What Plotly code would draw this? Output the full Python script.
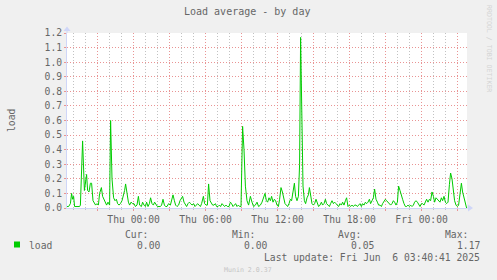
import plotly.graph_objects as go
from datetime import datetime, timedelta

# ---------------- data ----------------
START = datetime(2025, 6, 4, 18, 27)   # left edge of the graph (Wed)
SPAN_MIN = 2000                          # 400 x 5-minute steps

minutes = [
    0, 8, 17, 23, 28, 33, 38, 43, 53, 63, 67, 78, 87, 93, 98, 103, 110, 117, 123, 130,
    137, 143, 150, 157, 163, 172, 178, 185, 192, 198, 205, 213, 218, 225, 233, 240, 247, 253, 260, 267,
    275, 282, 288, 293, 300, 307, 313, 320, 328, 335, 342, 350, 357, 363, 372, 378, 385, 392, 398, 405,
    412, 418, 425, 432, 438, 445, 452, 460, 467, 473, 480, 487, 493, 500, 508, 517, 523, 530, 537, 543,
    550, 558, 565, 572, 578, 585, 592, 598, 605, 612, 618, 625, 633, 640, 647, 653, 660, 667, 673, 682,
    688, 695, 702, 708, 715, 722, 728, 735, 742, 748, 755, 762, 768, 775, 782, 788, 795, 802, 810, 817,
    823, 830, 837, 843, 850, 857, 863, 870, 878, 885, 892, 900, 908,
    917, 925, 933, 942, 950, 958, 967, 975, 983, 990, 997, 1003, 1010, 1017, 1023, 1030, 1037, 1043, 1050, 1057,
    1063, 1070, 1077, 1083, 1090, 1097, 1103, 1110, 1117, 1123, 1130, 1137, 1143, 1150, 1157, 1163, 1168, 1175, 1180, 1187,
    1193, 1200, 1207, 1212, 1218, 1225, 1232, 1238, 1245, 1252, 1258, 1265, 1272, 1278, 1285, 1292, 1298, 1305, 1312, 1318,
    1325, 1332, 1338, 1345, 1352, 1358, 1365, 1372, 1378, 1385, 1392, 1398, 1405, 1412, 1418, 1425, 1432, 1438, 1445, 1452,
    1458, 1465, 1472, 1478, 1485, 1492, 1498, 1505, 1512, 1518, 1525, 1532, 1538, 1545, 1552, 1558, 1565, 1572, 1578, 1585,
    1592, 1598, 1605, 1612, 1618, 1625, 1632, 1638, 1645, 1652, 1658, 1665, 1672, 1678, 1685, 1692, 1698, 1705, 1712, 1718,
    1725, 1732, 1738, 1745, 1752, 1758, 1765, 1772, 1778, 1785, 1792, 1798, 1805, 1812, 1818, 1825, 1832, 1838, 1845, 1852,
    1858, 1865, 1872, 1878, 1885, 1892, 1898, 1905, 1912, 1918, 1925, 1932, 1938, 1945, 1952, 1958, 1965, 1972, 1978, 1985,
    1992, 1998,
]

load = [
    .01, .01, .03, .10, .06, .08, .01, .01, .01, .01, .02, .46, .12, .20, .23, .12, .11, .17, .17, .05,
    .03, .02, .03, .02, .10, .14, .08, .06, .03, .02, .04, .02, .60, .20, .07, .05, .06, .03, .02, .03,
    .05, .08, .12, .165, .10, .04, .02, .04, .03, .03, .01, .02, .08, .02, .01, .04, .02, .01, .04, .01,
    .03, .07, .03, .02, .04, .02, .01, .01, .01, .02, .06, .02, .01, .01, .03, .02, .05, .09, .05, .02,
    .01, .02, .05, .07, .08, .04, .02, .01, .03, .04, .03, .02, .03, .01, .02, .03, .02, .01, .03, .08,
    .03, .02, .02, .165, .05, .03, .02, .02, .03, .01, .01, .02, .01, .03, .02, .01, .02, .01, .01, .04,
    .03, .01, .02, .03, .01, .02, .01, .01, .56, .40, .15, .05, .02,
    .08, .04, .01, .02, .04, .01, .02, .04, .07, .10, .05, .04, .07, .05, .08, .04, .06, .05, .02, .01,
    .06, .14, .11, .07, .03, .02, .01, .03, .06, .05, .10, .17, .08, .05, .08, .30, 1.17, .60, .15, .05,
    .03, .07, .09, .14, .08, .03, .02, .03, .06, .03, .01, .02, .04, .02, .03, .06, .03, .02, .01, .03,
    .05, .03, .04, .03, .02, .01, .03, .02, .04, .02, .05, .07, .01, .02, .01, .02, .01, .02, .02, .01,
    .02, .03, .01, .03, .02, .04, .03, .04, .06, .03, .05, .07, .13, .06, .04, .02, .02, .01, .03, .05,
    .06, .05, .04, .03, .02, .03, .05, .04, .02, .04, .15, .12, .08, .06, .03, .01, .01, .02, .01, .02,
    .01, .02, .04, .05, .04, .02, .01, .03, .03, .02, .04, .06, .04, .06, .05, .11, .08, .04, .07, .06,
    .05, .04, .07, .05, .08, .04, .03, .04, .16, .24, .20, .10, .05, .02, .01, .02, .10, .17, .11, .07,
    .02, .00,
]

series_name = "load"
stat_headers = ["Cur:", "Min:", "Avg:", "Max:"]
stat_values = ["0.00", "0.00", "0.05", "1.17"]
title = "Load average - by day"
last_update = "Last update: Fri Jun  6 03:40:41 2025"
footer = "Munin 2.0.37"
watermark = "RRDTOOL / TOBI OETIKER"

# ---------------- styling ----------------
FONT = "DejaVu Sans Mono"
FC = "#666666"
GREEN = "#00CC00"
MGRID = "#E99494"
GRID = "#C2C2C2"
AXIS = "#CFD6F8"
DOTS = "1px,2px"

W, H = 497, 280
L, R, T, B = 67, 30, 33, 72
PW, PH = W - L - R, H - T - B


def px_x(p):
    return (p - L) / PW


def px_y(p):
    return (T + PH - p) / PH


times = [START + timedelta(minutes=m) for m in minutes]
end = START + timedelta(minutes=SPAN_MIN)

first_tick = datetime(2025, 6, 4, 21, 0)
tick_times = []
t = first_tick
while t <= end:
    tick_times.append(t)
    t += timedelta(hours=3)
tick_text = [tt.strftime("%a %H:%M") if tt.hour % 6 == 0 else "" for tt in tick_times]

fig = go.Figure()
fig.add_trace(go.Scatter(x=times, y=load, mode="lines",
                         line=dict(color=GREEN, width=1), name=series_name,
                         hoverinfo="skip"))

fig.update_layout(
    width=W, height=H,
    margin=dict(l=L, r=R, t=T, b=B, pad=0),
    paper_bgcolor="#F0F0F0", plot_bgcolor="#FFFFFF",
    showlegend=False,
    font=dict(family=FONT, size=9.7, color=FC),
    xaxis=dict(
        type="date", range=[START, end],
        tickmode="array", tickvals=tick_times, ticktext=tick_text,
        showgrid=True, gridcolor=MGRID, griddash=DOTS, gridwidth=1,
        ticks="outside", ticklen=2, tickcolor=MGRID,
        showline=True, linecolor=AXIS, linewidth=1,
        tickfont=dict(family=FONT, size=9.7, color=FC),
        minor=dict(dtick=3600000, tick0="2025-06-04 00:00", showgrid=True,
                   gridcolor=GRID, griddash=DOTS, gridwidth=1,
                   ticks="outside", ticklen=1, tickcolor=GRID),
        zeroline=False, fixedrange=True,
    ),
    yaxis=dict(
        range=[0, 1.2], dtick=0.1, tick0=0, tickformat=".1f",
        showgrid=True, gridcolor=MGRID, griddash=DOTS, gridwidth=1,
        ticks="outside", ticklen=2, tickcolor=MGRID,
        showline=True, linecolor=AXIS, linewidth=1,
        tickfont=dict(family=FONT, size=9.7, color=FC),
        zeroline=False, fixedrange=True,
    ),
)

ann = []


def text(x, y, s, xanchor="center", size=9.7, color=FC, angle=0):
    ann.append(dict(x=px_x(x), y=px_y(y), xref="paper", yref="paper", text=s,
                    showarrow=False, xanchor=xanchor, yanchor="middle",
                    textangle=angle, font=dict(family=FONT, size=size, color=color)))


text(247, 12, title, size=10)
text(11, 120, series_name, angle=-90)
text(489, 48, watermark, size=6.6, color="#D4D4D4", angle=90)
# legend
text(27, 245, series_name, xanchor="left")
for hx, vx, h, v in zip([150, 257, 363, 470], [162, 269, 376, 482], stat_headers, stat_values):
    text(hx, 234, h, xanchor="right")
    text(vx, 245, v, xanchor="right")
text(482, 257, last_update, xanchor="right")
text(248, 270, footer, size=6.6, color="#C4C4C4")
fig.update_layout(annotations=ann)

shapes = [
    # legend colour box
    dict(type="rect", xref="paper", yref="paper", x0=px_x(14), x1=px_x(20),
         y0=px_y(247.5), y1=px_y(241.5), fillcolor=GREEN, line=dict(width=0)),
    # axis arrows
    dict(type="path", xref="paper", yref="paper",
         path=f"M {px_x(63.5)},{px_y(31)} L {px_x(67)},{px_y(26.5)} L {px_x(70.5)},{px_y(31)} Z",
         fillcolor=AXIS, line=dict(width=0)),
    dict(type="path", xref="paper", yref="paper",
         path=f"M {px_x(468)},{px_y(204.5)} L {px_x(473)},{px_y(208)} L {px_x(468)},{px_y(211.5)} Z",
         fillcolor=AXIS, line=dict(width=0)),
    dict(type="line", xref="paper", yref="paper", x0=px_x(67), x1=px_x(67),
         y0=px_y(33), y1=px_y(30), line=dict(color=AXIS, width=1)),
    dict(type="line", xref="paper", yref="paper", x0=px_x(467), x1=px_x(469),
         y0=px_y(208), y1=px_y(208), line=dict(color=AXIS, width=1)),
]
fig.update_layout(shapes=shapes)

fig.write_html("out.html", config={"displayModeBar": False})
